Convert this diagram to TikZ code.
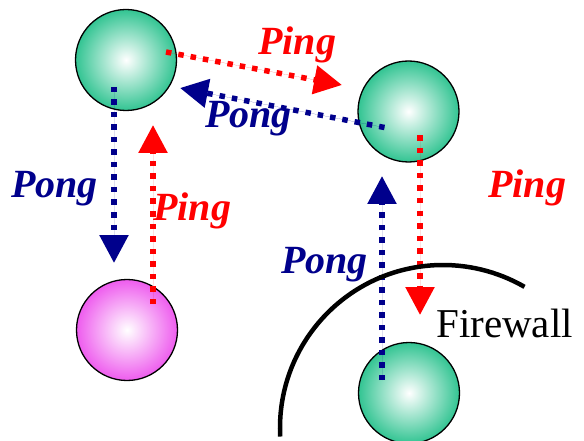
\documentclass[tikz,border=0pt]{standalone}
\usepackage{fontspec}
\setmainfont{Liberation Serif}
\newfontfamily\pingfont{Liberation Serif Bold Italic}
\usetikzlibrary{arrows.meta,calc}
\definecolor{pingred}{RGB}{255,0,0}
\definecolor{pongblue}{RGB}{0,0,140}
\definecolor{ballgreen}{RGB}{50,196,146}
\definecolor{ballpink}{RGB}{238,92,238}
\begin{document}
\begin{tikzpicture}[x=1pt,y=-1pt,
  sphere/.style={circle,minimum size=101pt,inner sep=0pt,draw=black,line width=1.3pt,inner color=white},
  greenball/.style={sphere,outer color=ballgreen},
  pinkball/.style={sphere,outer color=ballpink},
  msg/.style={line width=5.5pt,dash pattern=on 5.5pt off 7pt,line cap=butt,-{Triangle[width=28pt,length=28pt]}},
  pingline/.style={msg,draw=pingred,fill=pingred},
  pongline/.style={msg,draw=pongblue,fill=pongblue},
  lbl/.style={anchor=base west,inner sep=0pt,font=\pingfont\fontsize{40}{40}\selectfont},
  pinglbl/.style={lbl,text=pingred},
  ponglbl/.style={lbl,text=pongblue}]
\useasboundingbox (0,0) rectangle (584,441);
\fill[white] (0,0) rectangle (584,441);
% spheres
\node[greenball] (A) at (126,60) {};
\node[greenball] (B) at (408.5,111.5) {};
\node[pinkball] (C) at (127,330) {};
\node[greenball] (D) at (409,393) {};
% connector ends
\coordinate (ABtip) at (342,85);
\coordinate (BAtip) at (180,88);
\coordinate (ACtip) at (114,263);
\coordinate (CAtip) at (153,125);
\coordinate (BDtip) at (420,315);
\coordinate (DBtip) at (382,176);
% connectors
\draw[pingline] ($(A)+(40,-8)$) -- (ABtip);
\draw[pongline] ($(B)+(-24,16)$) -- (BAtip);
\draw[pongline] ($(A)+(-12,27)$) -- (ACtip);
\draw[pingline] ($(C)+(26,-26)$) -- (CAtip);
\draw[pingline] ($(B)+(11.5,24)$) -- (BDtip);
\draw[pongline] ($(D)+(-27,-13)$) -- (DBtip);
% firewall
\coordinate (FW) at (443,428);
\draw[line width=4.5pt,line cap=butt] ($(FW)+(177:163)$) arc[start angle=177,end angle=300,radius=163];
\node[anchor=base west,inner sep=0pt,font=\fontsize{41}{41}\selectfont] (fwl) at (436,337) {Firewall};
% labels
\node[pinglbl] (l1) at (258,55) {Ping};
\node[ponglbl] (l2) at (205,128) {Pong};
\node[ponglbl] (l3) at (11,197) {Pong};
\node[pinglbl] (l4) at (153,220) {Ping};
\node[pinglbl] (l5) at (488,197) {Ping};
\node[ponglbl] (l6) at (281,273) {Pong};
\end{tikzpicture}
\end{document}
